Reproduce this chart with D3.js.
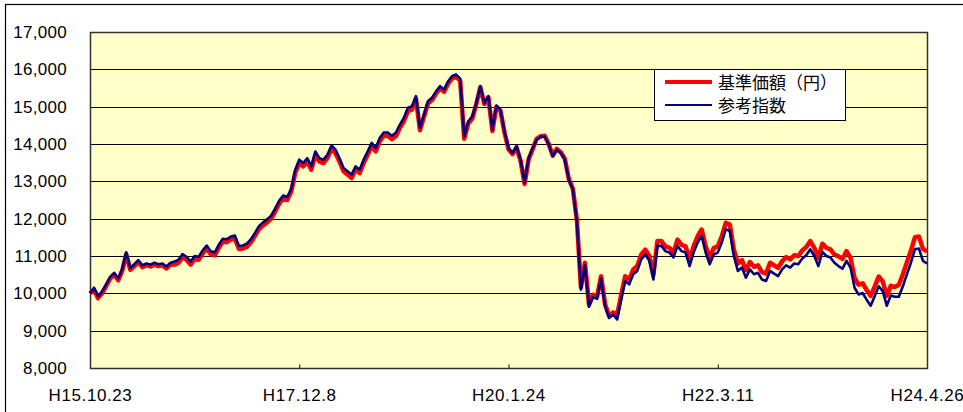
<!DOCTYPE html>
<html>
<head>
<meta charset="utf-8">
<script src="https://cdn.jsdelivr.net/npm/d3@7"></script>
<style>
  body { margin: 0; background: #fff; }
  text { font-family: "Liberation Sans", Arial, sans-serif; }
</style>
</head>
<body>
<svg width="963" height="412"></svg>
<script>
// 基準価額 (fund NAV, red) and 参考指数 (reference index, blue)
var kijun = [10000,10100,9870,10000,10190,10390,10500,10350,10600,11050,10630,10730,10840,10700,10750,10720,10770,10730,10750,10670,10770,
  10770,10820,10970,10900,10770,10920,10900,11070,11200,11050,11020,11220,11380,11370,11440,11470,11190,11200,11250,11370,
  11540,11720,11820,11900,12000,12190,12400,12540,12500,12720,
  13220,13490,13400,13530,13310,13710,13530,13490,13620,13870,13760,13530,13270,13180,13090,13310,13220,13490,13710,13940,
  13800,14070,14220,14220,14130,14210,14430,14610,14880,14920,
  15220,14370,14730,15090,15180,15350,15490,15400,15620,15760,15800,15690,14140,14550,14680,
  15070,15520,15070,15250,14350,15000,14890,14310,13860,13730,13910,13550,12930,13590,13860,
  14140,14210,14220,14000,13690,13870,13780,13600,13060,12800,
  11960,10160,10820,9700,9960,9910,10460,9710,9400,9490,
  9430,9960,10460,10370,10640,10730,11040,11170,11000,10500,11400,11400,11260,11220,11090,
  11440,11300,11260,10900,11260,11530,11710,11260,10950,11210,11260,11530,11890,11840,11170,
  10800,10890,10620,10840,10710,10750,10570,10530,
  10820,10750,10680,10860,10970,10910,11020,11000,11150,11240,11400,11220,10950,11330,11220,11180,11040,
  10990,10920,11130,10950,10410,10230,10270,10090,9930,10180,10450,10320,9930,10200,10170,
  10230,10510,10830,11140,11500,11520,11190,11120];

var sanko = [10000,10150,9920,10050,10240,10440,10550,10400,10650,11100,10680,10780,10890,10750,10800,10770,10820,10780,10800,10720,10820,
  10850,10900,11050,10980,10850,11000,10980,11150,11280,11130,11100,11300,11460,11450,11520,11550,11270,11280,11330,11450,
  11620,11800,11900,11980,12080,12270,12480,12620,12580,12800,
  13310,13580,13490,13620,13400,13800,13620,13580,13710,13960,13850,13620,13360,13270,13180,13400,13310,13580,13800,14030,
  13890,14160,14310,14310,14220,14300,14520,14700,14970,15010,
  15280,14430,14790,15150,15240,15410,15550,15460,15680,15820,15860,15750,14200,14610,14740,
  15100,15550,15100,15280,14380,15030,14920,14340,13890,13760,13940,13580,12960,13620,13890,
  14120,14190,14200,13980,13670,13850,13760,13580,13040,12780,
  11900,10100,10760,9640,9900,9850,10400,9650,9340,9430,
  9300,9830,10330,10240,10510,10600,10910,11040,10870,10370,11270,11270,11130,11090,10960,
  11270,11130,11090,10730,11090,11360,11540,11090,10780,11040,11090,11360,11720,11670,11000,
  10600,10690,10420,10640,10510,10550,10370,10330,
  10600,10530,10460,10640,10750,10690,10800,10780,10930,11020,11180,11000,10730,11110,11000,10960,10820,
  10730,10660,10870,10690,10150,9970,10010,9830,9670,9920,10190,10060,9670,9940,9910,
  9910,10190,10510,10820,11180,11200,10870,10800];

var yTicks = [8000, 9000, 10000, 11000, 12000, 13000, 14000, 15000, 16000, 17000];
var xLabels = ["H15.10.23", "H17.12.8", "H20.1.24", "H22.3.11", "H24.4.26"];
var xTickIdx = [0, 52, 104, 156, 208];
var seriesNames = ["基準価額（円）", "参考指数"];
var seriesColors = ["#ff0000", "#000080"];

var svg = d3.select("svg");
var plot = { left: 90, top: 32, right: 927, bottom: 368 };

var x = d3.scaleLinear()
  .domain([0, kijun.length - 1])
  .range([plot.left, plot.right]);
var y = d3.scaleLinear()
  .domain([8000, 17000])
  .range([plot.bottom, plot.top]);

// cadre exterieur
svg.append("rect")
  .attr("x", 5.5).attr("y", 4.5)
  .attr("width", 1000).attr("height", 500)
  .attr("fill", "#fff")
  .attr("stroke", "#000")
  .attr("stroke-width", 1.2);

// fond de la zone
svg.append("rect")
  .attr("x", plot.left).attr("y", plot.top)
  .attr("width", plot.right - plot.left)
  .attr("height", plot.bottom - plot.top)
  .attr("fill", "#ffffc8");

// gridlines
svg.append("g")
  .selectAll("line")
  .data(yTicks)
  .enter()
  .append("line")
  .attr("x1", plot.left)
  .attr("x2", plot.right)
  .attr("y1", function (d) { return Math.round(y(d)) + 0.5; })
  .attr("y2", function (d) { return Math.round(y(d)) + 0.5; })
  .attr("stroke", "#000")
  .attr("stroke-width", 1);

// y labels
svg.append("g")
  .selectAll("text")
  .data(yTicks)
  .enter()
  .append("text")
  .attr("x", 67)
  .attr("y", function (d) { return y(d) + 6; })
  .attr("text-anchor", "end")
  .style("font-size", "17px")
  .style("letter-spacing", "0.3px")
  .text(function (d) { return d3.format(",")(d); });

// x axis ticks (inside) and labels
var xAxis = d3.axisBottom(x)
  .tickValues(xTickIdx)
  .tickSize(-4)
  .tickPadding(20)
  .tickFormat(function (d, i) { return xLabels[i]; });
var gx = svg.append("g")
  .attr("transform", "translate(0," + (plot.bottom + 0.5) + ")")
  .call(xAxis);
gx.select(".domain").remove();
gx.selectAll("line").attr("stroke", "#000");
gx.selectAll("text")
  .style("font-size", "17px")
  .style("letter-spacing", "0.6px")
  .style("font-family", "'Liberation Sans', Arial, sans-serif")
  .attr("fill", "#000");

// plot border
svg.append("rect")
  .attr("x", plot.left + 0.5).attr("y", plot.top + 0.5)
  .attr("width", plot.right - plot.left)
  .attr("height", plot.bottom - plot.top)
  .attr("fill", "none")
  .attr("stroke", "#333")
  .attr("stroke-width", 1.5);

// les courbes
var line = d3.line()
  .x(function (d, i) { return x(i); })
  .y(function (d) { return y(d); });

svg.append("path")
  .datum(kijun)
  .attr("d", line)
  .attr("fill", "none")
  .attr("stroke", seriesColors[0])
  .attr("stroke-width", 4.5)
  .attr("stroke-linejoin", "round");

svg.append("path")
  .datum(sanko)
  .attr("d", line)
  .attr("fill", "none")
  .attr("stroke", seriesColors[1])
  .attr("stroke-width", 2.6)
  .attr("stroke-linejoin", "round");

// legende
var leg = svg.append("g").attr("transform", "translate(654,69)");
leg.append("rect")
  .attr("x", 0.5).attr("y", 0.5)
  .attr("width", 191).attr("height", 51)
  .attr("fill", "#fff")
  .attr("stroke", "#000")
  .attr("stroke-width", 1);
leg.selectAll("line")
  .data(seriesNames)
  .enter()
  .append("line")
  .attr("x1", 11).attr("x2", 58)
  .attr("y1", function (d, i) { return 13 + i * 23; })
  .attr("y2", function (d, i) { return 13 + i * 23; })
  .attr("stroke", function (d, i) { return seriesColors[i]; })
  .attr("stroke-width", function (d, i) { return i == 0 ? 4 : 2; });
leg.selectAll("text")
  .data(seriesNames)
  .enter()
  .append("text")
  .attr("x", 64)
  .attr("y", function (d, i) { return 20 + i * 23; })
  .style("font-family", "'Noto Sans CJK JP', sans-serif")
  .style("font-size", "17px")
  .text(function (d) { return d; });
</script>
</body>
</html>
